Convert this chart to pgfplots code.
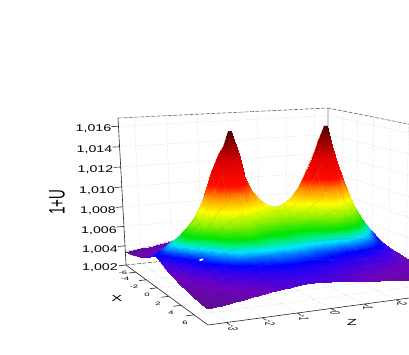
\documentclass[border=0pt]{standalone}
\usepackage{fontspec}
\setmainfont{Liberation Sans}
\usepackage{pgfplots}
\pgfplotsset{compat=1.18}
\usepgfplotslibrary{patchplots}
% Screen projection of (X,Z,U): perspective box used by the chart
\tikzset{declare function={
 aa(\x)=(8-\x)/14; bb(\z)=(\z+3.5)/7; cc(\u)=(\u-1.002)/0.0148;
 ww(\x,\z,\u)=1+0.221*aa(\x)+0.106*bb(\z)-0.0466*cc(\u);
 pjx(\x,\z,\u)=(208-54.1*aa(\x)+281.3*bb(\z)-15.3*cc(\u))/ww(\x,\z,\u);
 pjy(\x,\z,\u)=354-(325-1.4*aa(\x)-0.318*bb(\z)-185*cc(\u))/ww(\x,\z,\u);
}}
\pgfplotsset{proj/.style={/pgfplots/table/x expr={pjx(\thisrow{X},\thisrow{Z},\thisrow{U})},/pgfplots/table/y expr={pjy(\thisrow{X},\thisrow{Z},\thisrow{U})},/pgfplots/table/z expr={\thisrow{U}}}}
\newcommand\tl[1]{\scalebox{1.45}[1]{\fontsize{9.8}{10}\selectfont #1}}
\newcommand\xl[1]{\scalebox{1.05}[.55]{\fontsize{9}{10}\selectfont #1}}
\newcommand\zl[1]{\scalebox{.6}[1.5]{\fontsize{9}{10}\selectfont #1}}
\begin{document}
\begin{tikzpicture}
\path[use as bounding box] (0,0) rectangle (409pt,354pt);
\begin{axis}[at={(0,0)},anchor=south west,width=409pt,height=354pt,scale only axis,hide axis,
 view={0}{90},xmin=0,xmax=409,ymin=0,ymax=354,zmin=1.002,zmax=1.017,
 z buffer=none,
 colormap={rb}{rgb255(0pt)=(90,15,140);rgb255(8pt)=(110,0,190);rgb255(15pt)=(50,0,240);rgb255(19pt)=(0,0,255);rgb255(23pt)=(0,110,255);rgb255(27pt)=(0,230,255);rgb255(31pt)=(0,240,120);rgb255(35pt)=(0,230,0);rgb255(45pt)=(140,240,0);rgb255(57pt)=(255,255,0);rgb255(70pt)=(255,140,0);rgb255(80pt)=(255,10,0);rgb255(100pt)=(225,0,0);rgb255(115pt)=(150,0,0);rgb255(128pt)=(70,0,0)},
 point meta min=1.0033,point meta max=1.0161]
% grid on the walls and the floor
\addplot3[gray!45,densely dotted,line width=.4pt,empty line=jump] table[proj]{
X Z U
-6 -3 1.002
-6 -3 1.0168

-6 -2 1.002
-6 -2 1.0168

-6 -1 1.002
-6 -1 1.0168

-6 0 1.002
-6 0 1.0168

-6 1 1.002
-6 1 1.0168

-6 2 1.002
-6 2 1.0168

-6 3 1.002
-6 3 1.0168

-6 -3.5 1.004
-6 3.5 1.004

-6 -3.5 1.006
-6 3.5 1.006

-6 -3.5 1.008
-6 3.5 1.008

-6 -3.5 1.010
-6 3.5 1.010

-6 -3.5 1.012
-6 3.5 1.012

-6 -3.5 1.014
-6 3.5 1.014

-6 -3.5 1.016
-6 3.5 1.016

-6 3.5 1.004
8 3.5 1.004

-6 3.5 1.006
8 3.5 1.006

-6 3.5 1.008
8 3.5 1.008

-6 3.5 1.010
8 3.5 1.010

-6 3.5 1.012
8 3.5 1.012

-6 3.5 1.014
8 3.5 1.014

-6 3.5 1.016
8 3.5 1.016

-4 3.5 1.002
-4 3.5 1.0168

-2 3.5 1.002
-2 3.5 1.0168

0 3.5 1.002
0 3.5 1.0168

2 3.5 1.002
2 3.5 1.0168

4 3.5 1.002
4 3.5 1.0168

6 3.5 1.002
6 3.5 1.0168

-4 -3.5 1.002
-4 3.5 1.002

-2 -3.5 1.002
-2 3.5 1.002

0 -3.5 1.002
0 3.5 1.002

2 -3.5 1.002
2 3.5 1.002

4 -3.5 1.002
4 3.5 1.002

6 -3.5 1.002
6 3.5 1.002

-6 -3 1.002
8 -3 1.002

-6 -2 1.002
8 -2 1.002

-6 -1 1.002
8 -1 1.002

-6 0 1.002
8 0 1.002

-6 1 1.002
8 1 1.002

-6 2 1.002
8 2 1.002

-6 3 1.002
8 3 1.002
};
% far edges of the box
\addplot3[gray!80!black,dashed,dash pattern=on 4pt off 1.5pt,line width=.6pt,empty line=jump] table[proj]{
X Z U
-6 -3.5 1.0168
-6 3.5 1.0168
8 3.5 1.0168

-6 -3.5 1.002
-6 3.5 1.002
};
\addplot3[gray,line width=.6pt] table[proj]{
X Z U
-6 3.5 1.0168
-6 3.5 1.012
};
% the surface
\addplot3[surf,shader=faceted interp,faceted color=mapped color!82!gray,line width=.08pt,mesh/rows=18,mesh/cols=33,point meta=\thisrow{U}] table[proj]{
X Z U
-6 3.5 1.00340
-6 3.25 1.00346
-6 3 1.00353
-6 2.75 1.00359
-6 2.5 1.00365
-6 2.25 1.00372
-6 2.12 1.00376
-6 1.92 1.00380
-6 1.83 1.00385
-6 1.63 1.00390
-6 1.5 1.00394
-6 1.25 1.00402
-6 1 1.00411
-6 .75 1.00420
-6 .5 1.00429
-6 .25 1.00437
-6 0 1.00443
-6 -.25 1.00447
-6 -.5 1.00448
-6 -.75 1.00446
-6 -.87 1.00444
-6 -1.11 1.00440
-6 -1.2 1.00435
-6 -1.37 1.00430
-6 -1.5 1.00425
-6 -1.75 1.00414
-6 -2 1.00402
-6 -2.25 1.00390
-6 -2.5 1.00378
-6 -2.75 1.00367
-6 -3 1.00357
-6 -3.25 1.00348
-6 -3.5 1.00340
-4.5 3.5 1.00354
-4.5 3.25 1.00366
-4.5 3 1.00380
-4.5 2.75 1.00391
-4.5 2.5 1.00401
-4.5 2.25 1.00409
-4.5 2.12 1.00414
-4.5 1.92 1.00418
-4.5 1.83 1.00423
-4.5 1.63 1.00428
-4.5 1.5 1.00431
-4.5 1.25 1.00439
-4.5 1 1.00447
-4.5 .75 1.00455
-4.5 .5 1.00463
-4.5 .25 1.00471
-4.5 0 1.00476
-4.5 -.25 1.00480
-4.5 -.5 1.00481
-4.5 -.75 1.00479
-4.5 -.87 1.00477
-4.5 -1.11 1.00474
-4.5 -1.2 1.00469
-4.5 -1.37 1.00464
-4.5 -1.5 1.00460
-4.5 -1.75 1.00449
-4.5 -2 1.00435
-4.5 -2.25 1.00421
-4.5 -2.5 1.00405
-4.5 -2.75 1.00390
-4.5 -3 1.00377
-4.5 -3.25 1.00364
-4.5 -3.5 1.00353
-3 3.5 1.00391
-3 3.25 1.00422
-3 3 1.00454
-3 2.75 1.00480
-3 2.5 1.00502
-3 2.25 1.00516
-3 2.12 1.00522
-3 1.92 1.00530
-3 1.83 1.00535
-3 1.63 1.00537
-3 1.5 1.00539
-3 1.25 1.00543
-3 1 1.00548
-3 .75 1.00553
-3 .5 1.00558
-3 .25 1.00564
-3 0 1.00568
-3 -.25 1.00572
-3 -.5 1.00574
-3 -.75 1.00573
-3 -.87 1.00574
-3 -1.11 1.00573
-3 -1.2 1.00570
-3 -1.37 1.00565
-3 -1.5 1.00562
-3 -1.75 1.00549
-3 -2 1.00529
-3 -2.25 1.00508
-3 -2.5 1.00481
-3 -2.75 1.00455
-3 -3 1.00433
-3 -3.25 1.00409
-3 -3.5 1.00388
-2 3.5 1.00425
-2 3.25 1.00474
-2 3 1.00524
-2 2.75 1.00568
-2 2.5 1.00608
-2 2.25 1.00640
-2 2.12 1.00654
-2 1.92 1.00678
-2 1.83 1.00683
-2 1.63 1.00675
-2 1.5 1.00668
-2 1.25 1.00659
-2 1 1.00651
-2 .75 1.00647
-2 .5 1.00647
-2 .25 1.00650
-2 0 1.00654
-2 -.25 1.00661
-2 -.5 1.00668
-2 -.75 1.00679
-2 -.87 1.00693
-2 -1.11 1.00709
-2 -1.2 1.00708
-2 -1.37 1.00695
-2 -1.5 1.00688
-2 -1.75 1.00664
-2 -2 1.00627
-2 -2.25 1.00590
-2 -2.5 1.00551
-2 -2.75 1.00514
-2 -3 1.00484
-2 -3.25 1.00449
-2 -3.5 1.00420
-1 3.5 1.00473
-1 3.25 1.00548
-1 3 1.00627
-1 2.75 1.00710
-1 2.5 1.00807
-1 2.25 1.00897
-1 2.12 1.00950
-1 1.92 1.01034
-1 1.83 1.01039
-1 1.63 1.00993
-1 1.5 1.00951
-1 1.25 1.00892
-1 1 1.00833
-1 .75 1.00797
-1 .5 1.00776
-1 .25 1.00771
-1 0 1.00779
-1 -.25 1.00803
-1 -.5 1.00837
-1 -.75 1.00894
-1 -.87 1.00962
-1 -1.11 1.01049
-1 -1.2 1.01050
-1 -1.37 1.01001
-1 -1.5 1.00977
-1 -1.75 1.00906
-1 -2 1.00804
-1 -2.25 1.00717
-1 -2.5 1.00653
-1 -2.75 1.00596
-1 -3 1.00554
-1 -3.25 1.00506
-1 -3.5 1.00465
-.5 3.5 1.00500
-.5 3.25 1.00592
-.5 3 1.00692
-.5 2.75 1.00808
-.5 2.5 1.00963
-.5 2.25 1.01114
-.5 2.12 1.01210
-.5 1.92 1.01363
-.5 1.83 1.01368
-.5 1.63 1.01278
-.5 1.5 1.01199
-.5 1.25 1.01085
-.5 1 1.00970
-.5 .75 1.00899
-.5 .5 1.00856
-.5 .25 1.00842
-.5 0 1.00857
-.5 -.25 1.00900
-.5 -.5 1.00965
-.5 -.75 1.01073
-.5 -.87 1.01202
-.5 -1.11 1.01368
-.5 -1.2 1.01371
-.5 -1.37 1.01280
-.5 -1.5 1.01237
-.5 -1.75 1.01112
-.5 -2 1.00939
-.5 -2.25 1.00800
-.5 -2.5 1.00713
-.5 -2.75 1.00642
-.5 -3 1.00595
-.5 -3.25 1.00538
-.5 -3.5 1.00490
0 3.5 1.00510
0 3.25 1.00610
0 3 1.00720
0 2.75 1.00860
0 2.5 1.01060
0 2.25 1.01260
0 2.12 1.01390
0 1.92 1.01620
0 1.83 1.01620
0 1.63 1.01480
0 1.5 1.01370
0 1.25 1.01210
0 1 1.01050
0 .75 1.00950
0 .5 1.00890
0 .25 1.00870
0 0 1.00890
0 -.25 1.00950
0 -.5 1.01040
0 -.75 1.01190
0 -.87 1.01370
0 -1.11 1.01620
0 -1.2 1.01620
0 -1.37 1.01480
0 -1.5 1.01420
0 -1.75 1.01250
0 -2 1.01020
0 -2.25 1.00840
0 -2.5 1.00740
0 -2.75 1.00660
0 -3 1.00610
0 -3.25 1.00550
0 -3.5 1.00500
.5 3.5 1.00496
.5 3.25 1.00587
.5 3 1.00685
.5 2.75 1.00800
.5 2.5 1.00954
.5 2.25 1.01105
.5 2.12 1.01200
.5 1.92 1.01353
.5 1.83 1.01358
.5 1.63 1.01268
.5 1.5 1.01190
.5 1.25 1.01075
.5 1 1.00961
.5 .75 1.00890
.5 .5 1.00848
.5 .25 1.00833
.5 0 1.00849
.5 -.25 1.00892
.5 -.5 1.00957
.5 -.75 1.01065
.5 -.87 1.01194
.5 -1.11 1.01359
.5 -1.2 1.01362
.5 -1.37 1.01272
.5 -1.5 1.01228
.5 -1.75 1.01103
.5 -2 1.00931
.5 -2.25 1.00792
.5 -2.5 1.00707
.5 -2.75 1.00637
.5 -3 1.00590
.5 -3.25 1.00534
.5 -3.5 1.00487
1 3.5 1.00473
1 3.25 1.00548
1 3 1.00628
1 2.75 1.00712
1 2.5 1.00812
1 2.25 1.00905
1 2.12 1.00961
1 1.92 1.01049
1 1.83 1.01054
1 1.63 1.01005
1 1.5 1.00961
1 1.25 1.00899
1 1 1.00837
1 .75 1.00799
1 .5 1.00777
1 .25 1.00771
1 0 1.00780
1 -.25 1.00805
1 -.5 1.00841
1 -.75 1.00901
1 -.87 1.00972
1 -1.11 1.01064
1 -1.2 1.01065
1 -1.37 1.01013
1 -1.5 1.00988
1 -1.75 1.00914
1 -2 1.00808
1 -2.25 1.00718
1 -2.5 1.00653
1 -2.75 1.00596
1 -3 1.00554
1 -3.25 1.00506
1 -3.5 1.00465
1.5 3.5 1.00451
1.5 3.25 1.00513
1.5 3 1.00578
1.5 2.75 1.00640
1.5 2.5 1.00704
1.5 2.25 1.00760
1.5 2.12 1.00791
1.5 1.92 1.00838
1.5 1.83 1.00843
1.5 1.63 1.00820
1.5 1.5 1.00799
1.5 1.25 1.00770
1.5 1 1.00741
1.5 .75 1.00724
1.5 .5 1.00715
1.5 .25 1.00714
1.5 0 1.00720
1.5 -.25 1.00733
1.5 -.5 1.00752
1.5 -.75 1.00781
1.5 -.87 1.00816
1.5 -1.11 1.00861
1.5 -1.2 1.00860
1.5 -1.37 1.00834
1.5 -1.5 1.00820
1.5 -1.75 1.00777
1.5 -2 1.00714
1.5 -2.25 1.00656
1.5 -2.5 1.00604
1.5 -2.75 1.00557
1.5 -3 1.00521
1.5 -3.25 1.00479
1.5 -3.5 1.00444
2 3.5 1.00435
2 3.25 1.00489
2 3 1.00545
2 2.75 1.00594
2 2.5 1.00639
2 2.25 1.00676
2 2.12 1.00693
2 1.92 1.00721
2 1.83 1.00726
2 1.63 1.00715
2 1.5 1.00706
2 1.25 1.00693
2 1 1.00681
2 .75 1.00675
2 .5 1.00673
2 .25 1.00675
2 0 1.00680
2 -.25 1.00687
2 -.5 1.00697
2 -.75 1.00711
2 -.87 1.00728
2 -1.11 1.00749
2 -1.2 1.00748
2 -1.37 1.00733
2 -1.5 1.00725
2 -1.75 1.00698
2 -2 1.00656
2 -2.25 1.00614
2 -2.5 1.00572
2 -2.75 1.00531
2 -3 1.00499
2 -3.25 1.00461
2 -3.5 1.00430
2.5 3.5 1.00425
2.5 3.25 1.00474
2.5 3 1.00524
2.5 2.75 1.00565
2.5 2.5 1.00601
2.5 2.25 1.00627
2.5 2.12 1.00638
2.5 1.92 1.00655
2.5 1.83 1.00660
2.5 1.63 1.00656
2.5 1.5 1.00653
2.5 1.25 1.00649
2.5 1 1.00646
2.5 .75 1.00645
2.5 .5 1.00647
2.5 .25 1.00650
2.5 0 1.00654
2.5 -.25 1.00659
2.5 -.5 1.00663
2.5 -.75 1.00670
2.5 -.87 1.00678
2.5 -1.11 1.00687
2.5 -1.2 1.00685
2.5 -1.37 1.00676
2.5 -1.5 1.00671
2.5 -1.75 1.00652
2.5 -2 1.00621
2.5 -2.25 1.00588
2.5 -2.5 1.00550
2.5 -2.75 1.00514
2.5 -3 1.00484
2.5 -3.25 1.00449
2.5 -3.5 1.00420
3 3.5 1.00415
3 3.25 1.00458
3 3 1.00502
3 2.75 1.00537
3 2.5 1.00566
3 2.25 1.00586
3 2.12 1.00594
3 1.92 1.00604
3 1.83 1.00609
3 1.63 1.00609
3 1.5 1.00609
3 1.25 1.00611
3 1 1.00613
3 .75 1.00616
3 .5 1.00620
3 .25 1.00623
3 0 1.00627
3 -.25 1.00631
3 -.5 1.00633
3 -.75 1.00635
3 -.87 1.00637
3 -1.11 1.00640
3 -1.2 1.00637
3 -1.37 1.00631
3 -1.5 1.00627
3 -1.75 1.00614
3 -2 1.00590
3 -2.25 1.00563
3 -2.5 1.00528
3 -2.75 1.00496
3 -3 1.00468
3 -3.25 1.00437
3 -3.5 1.00410
4 3.5 1.00391
4 3.25 1.00422
4 3 1.00454
4 2.75 1.00479
4 2.5 1.00499
4 2.25 1.00512
4 2.12 1.00517
4 1.92 1.00523
4 1.83 1.00528
4 1.63 1.00531
4 1.5 1.00534
4 1.25 1.00539
4 1 1.00546
4 .75 1.00552
4 .5 1.00558
4 .25 1.00564
4 0 1.00568
4 -.25 1.00571
4 -.5 1.00572
4 -.75 1.00570
4 -.87 1.00569
4 -1.11 1.00566
4 -1.2 1.00563
4 -1.37 1.00559
4 -1.5 1.00556
4 -1.75 1.00545
4 -2 1.00527
4 -2.25 1.00507
4 -2.5 1.00481
4 -2.75 1.00455
4 -3 1.00433
4 -3.25 1.00409
4 -3.5 1.00388
5 3.5 1.00374
5 3.25 1.00397
5 3 1.00420
5 2.75 1.00439
5 2.5 1.00454
5 2.25 1.00466
5 2.12 1.00470
5 1.92 1.00475
5 1.83 1.00480
5 1.63 1.00484
5 1.5 1.00487
5 1.25 1.00494
5 1 1.00501
5 .75 1.00508
5 .5 1.00515
5 .25 1.00522
5 0 1.00526
5 -.25 1.00530
5 -.5 1.00530
5 -.75 1.00529
5 -.87 1.00527
5 -1.11 1.00524
5 -1.2 1.00520
5 -1.37 1.00516
5 -1.5 1.00512
5 -1.75 1.00501
5 -2 1.00486
5 -2.25 1.00468
5 -2.5 1.00446
5 -2.75 1.00426
5 -3 1.00408
5 -3.25 1.00388
5 -3.5 1.00372
6 3.5 1.00360
6 3.25 1.00376
6 3 1.00393
6 2.75 1.00407
6 2.5 1.00418
6 2.25 1.00428
6 2.12 1.00432
6 1.92 1.00437
6 1.83 1.00442
6 1.63 1.00446
6 1.5 1.00450
6 1.25 1.00457
6 1 1.00465
6 .75 1.00473
6 .5 1.00481
6 .25 1.00488
6 0 1.00493
6 -.25 1.00497
6 -.5 1.00497
6 -.75 1.00496
6 -.87 1.00494
6 -1.11 1.00490
6 -1.2 1.00486
6 -1.37 1.00482
6 -1.5 1.00477
6 -1.75 1.00466
6 -2 1.00452
6 -2.25 1.00437
6 -2.5 1.00419
6 -2.75 1.00402
6 -3 1.00387
6 -3.25 1.00372
6 -3.5 1.00359
7 3.5 1.00349
7 3.25 1.00359
7 3 1.00370
7 2.75 1.00379
7 2.5 1.00387
7 2.25 1.00395
7 2.12 1.00400
7 1.92 1.00404
7 1.83 1.00409
7 1.63 1.00414
7 1.5 1.00417
7 1.25 1.00425
7 1 1.00433
7 .75 1.00442
7 .5 1.00451
7 .25 1.00458
7 0 1.00464
7 -.25 1.00468
7 -.5 1.00469
7 -.75 1.00467
7 -.87 1.00465
7 -1.11 1.00461
7 -1.2 1.00456
7 -1.37 1.00452
7 -1.5 1.00447
7 -1.75 1.00436
7 -2 1.00423
7 -2.25 1.00410
7 -2.5 1.00395
7 -2.75 1.00382
7 -3 1.00370
7 -3.25 1.00358
7 -3.5 1.00348
8 3.5 1.00340
8 3.25 1.00346
8 3 1.00353
8 2.75 1.00359
8 2.5 1.00365
8 2.25 1.00372
8 2.12 1.00376
8 1.92 1.00380
8 1.83 1.00385
8 1.63 1.00390
8 1.5 1.00394
8 1.25 1.00402
8 1 1.00411
8 .75 1.00420
8 .5 1.00429
8 .25 1.00437
8 0 1.00443
8 -.25 1.00447
8 -.5 1.00448
8 -.75 1.00446
8 -.87 1.00444
8 -1.11 1.00440
8 -1.2 1.00435
8 -1.37 1.00430
8 -1.5 1.00425
8 -1.75 1.00414
8 -2 1.00402
8 -2.25 1.00390
8 -2.5 1.00378
8 -2.75 1.00367
8 -3 1.00357
8 -3.25 1.00348
8 -3.5 1.00340
};
% axes and ticks
\addplot3[black!85,line width=.6pt,empty line=jump] table[proj]{
X Z U
-6 -3.5 1.0168
-6 -3.5 1.002
8 -3.5 1.002
8 3.5 1.002

-6 -3.72 1.004
-6 -3.5 1.004

-6 -3.72 1.006
-6 -3.5 1.006

-6 -3.72 1.008
-6 -3.5 1.008

-6 -3.72 1.010
-6 -3.5 1.010

-6 -3.72 1.012
-6 -3.5 1.012

-6 -3.72 1.014
-6 -3.5 1.014

-6 -3.72 1.016
-6 -3.5 1.016

-6 -3.72 1.002
-6 -3.5 1.002

-4 -3.72 1.002
-4 -3.5 1.002

-2 -3.72 1.002
-2 -3.5 1.002

0 -3.72 1.002
0 -3.5 1.002

2 -3.72 1.002
2 -3.5 1.002

4 -3.72 1.002
4 -3.5 1.002

6 -3.72 1.002
6 -3.5 1.002

8.5 -3 1.002
8 -3 1.002

8.5 -2 1.002
8 -2 1.002

8.5 -1 1.002
8 -1 1.002

8.5 0 1.002
8 0 1.002

8.5 1 1.002
8 1 1.002

8.5 2 1.002
8 2 1.002

8.5 3 1.002
8 3 1.002
};
% small unpainted spot in the surface
\addplot3[white,line width=1.7pt] coordinates {(199.5,93.6,1.005) (203,94.8,1.005)};
\end{axis}
\node at (93.5pt,225pt) {\tl{1,016}};
\node at (94.5pt,204.5pt) {\tl{1,014}};
\node at (95.5pt,184pt) {\tl{1,012}};
\node at (97pt,163.5pt) {\tl{1,010}};
\node at (98pt,143.5pt) {\tl{1,008}};
\node at (99pt,123.5pt) {\tl{1,006}};
\node at (100pt,104pt) {\tl{1,004}};
\node at (100pt,86pt) {\tl{1,002}};
\node[rotate=90] at (57pt,152pt) {\scalebox{.75}[1.25]{\fontsize{18}{20}\selectfont 1+U}};
\node at (117pt,56pt) {\scalebox{1.5}[.8]{\fontsize{11}{12}\selectfont X}};
\node at (352pt,32pt) {\scalebox{1.5}[.8]{\fontsize{11}{12}\selectfont Z}};
\node at (123pt,81.5pt) {\xl{-6}};
\node at (125pt,75pt) {\xl{-4}};
\node at (134pt,67pt) {\xl{-2}};
\node at (147pt,59pt) {\xl{0}};
\node at (158pt,50pt) {\xl{2}};
\node at (171pt,41pt) {\xl{4}};
\node at (185pt,31pt) {\xl{6}};
\node[rotate=-90] at (233pt,26pt) {\zl{-3}};
\node[rotate=-90] at (270pt,31pt) {\zl{-2}};
\node[rotate=-90] at (304pt,36pt) {\zl{-1}};
\node[rotate=-90] at (335pt,41pt) {\zl{0}};
\node[rotate=-90] at (368pt,46pt) {\zl{1}};
\node[rotate=-90] at (402pt,50pt) {\zl{2}};
\end{tikzpicture}
\end{document}
